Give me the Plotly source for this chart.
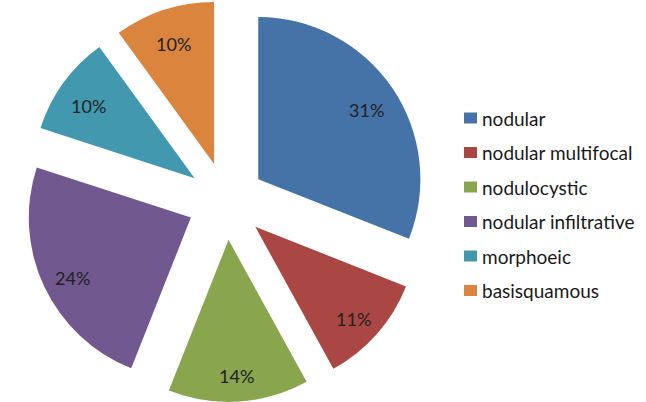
import math
import plotly.graph_objects as go

labels = ["nodular", "nodular multifocal", "nodulocystic", "nodular infiltrative", "morphoeic", "basisquamous"]
values = [31, 11, 14, 24, 10, 10]
colors = ["#4572A7", "#AA4643", "#89A54E", "#71588F", "#4198AF", "#DB843D"]

W, H = 646, 402
PULL = 0.24
DOM_X = [0.0, 0.7]
FONT = "Lato"

fig = go.Figure()
fig.add_trace(go.Pie(
    labels=labels, values=values, sort=False, direction="clockwise", rotation=0,
    marker=dict(colors=colors, line=dict(width=0)),
    pull=[PULL] * len(values),
    textinfo="none",
    domain=dict(x=DOM_X, y=[0, 1]),
    showlegend=False, hoverinfo="label+percent",
))

# percentage labels placed near the outer part of each slice (Excel style)
cx = (DOM_X[0] + DOM_X[1]) / 2 * W
cy = H / 2
r = min((DOM_X[1] - DOM_X[0]) * W, H) / 2 / (1 + PULL)
total = sum(values)
cum = 0
for v in values:
    mid = (cum + v / 2) / total * 2 * math.pi
    cum += v
    d = r * (PULL + 0.81)
    px = cx + d * math.sin(mid)
    py = cy - d * math.cos(mid) + 5
    fig.add_annotation(xref="paper", yref="paper", x=px / W, y=1 - py / H,
                       xanchor="center", yanchor="middle", showarrow=False,
                       text=f"{round(v / total * 100)}%",
                       font=dict(family=FONT, size=18, color="#222222"))

# manual legend (Excel-style spacing)
leg_x0 = 464 / W
leg_top = 118
leg_step = 34.5
for i, (lab, col) in enumerate(zip(labels, colors)):
    yc = 1 - (leg_top + i * leg_step) / H
    fig.add_shape(type="rect", xref="paper", yref="paper",
                  x0=leg_x0, x1=leg_x0 + 13 / W, y0=yc - 5.5 / H, y1=yc + 5.5 / H,
                  fillcolor=col, line=dict(width=0))
    fig.add_annotation(xref="paper", yref="paper", x=leg_x0 + 16 / W, y=yc,
                       xanchor="left", yanchor="middle", showarrow=False, text=lab,
                       font=dict(family=FONT, size=19, color="#1a1a1a"))

fig.update_layout(width=W, height=H, margin=dict(l=0, r=0, t=0, b=0),
                  paper_bgcolor="white", plot_bgcolor="white")
fig.write_html("out.html")
